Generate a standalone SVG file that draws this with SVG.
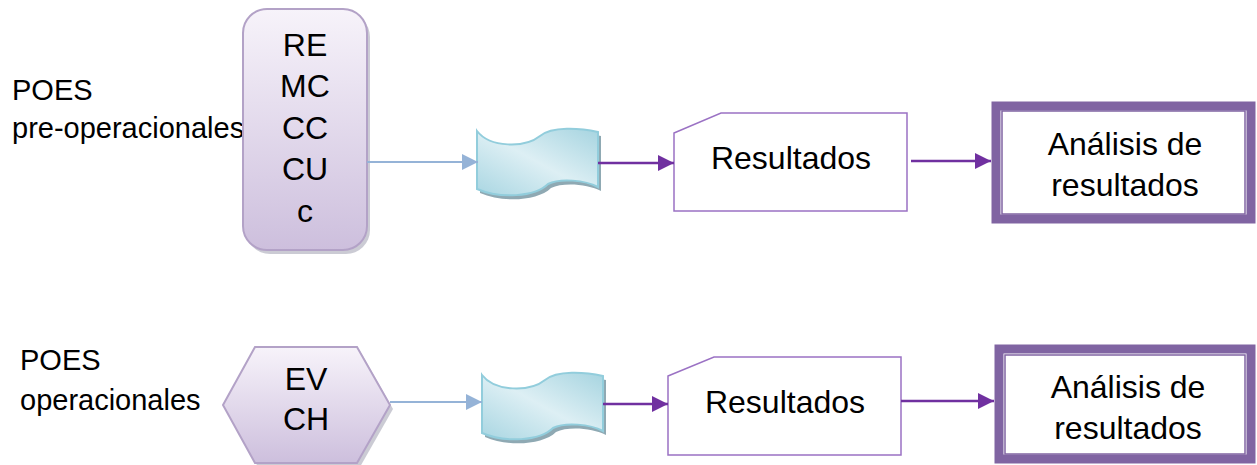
<svg xmlns="http://www.w3.org/2000/svg" width="1257" height="465" viewBox="0 0 1257 465">
  <defs>
    <linearGradient id="lilac" x1="0" y1="0" x2="0" y2="1">
      <stop offset="0" stop-color="#F7F3FA"/>
      <stop offset="1" stop-color="#CDBFDD"/>
    </linearGradient>
    <linearGradient id="tape" x1="0" y1="1" x2="1" y2="0">
      <stop offset="0" stop-color="#A9D6E2"/>
      <stop offset="0.5" stop-color="#DDEFF4"/>
      <stop offset="1" stop-color="#A6D4E0"/>
    </linearGradient>
    <marker id="arrowBlue" viewBox="0 0 10 10" refX="10" refY="5" markerWidth="16" markerHeight="16" markerUnits="userSpaceOnUse" orient="auto">
      <path d="M0,0 L10,5 L0,10 Z" fill="#95B3D7"/>
    </marker>
    <marker id="arrowPurple" viewBox="0 0 10 10" refX="10" refY="5" markerWidth="16" markerHeight="16" markerUnits="userSpaceOnUse" orient="auto">
      <path d="M0,0 L10,5 L0,10 Z" fill="#7030A0"/>
    </marker>
    <path id="tapeShape" d="M0,0 C13,17 48,17 63,5 C75,-5 103,-3 121,1 L121,56 C108,49 83,47 71,53 C58,66 23,68 0,58 Z"/>
  </defs>
  <style>
    text { font-family: "Liberation Sans", Arial, sans-serif; fill: #000; }
    .lbl { font-size: 29px; }
    .big { font-size: 32px; text-anchor: middle; }
    .mid { font-size: 32px; text-anchor: middle; }
    .src { fill: url(#lilac); stroke: #B3A2C7; stroke-width: 2; }
    .shadow { fill: #A9A9B8; opacity: 0.6; }
    .tape { fill: url(#tape); stroke: #92CDDC; stroke-width: 2; }
    .tapeShadow { fill: #8FA9B3; }
    .doc { fill: #FFFFFF; stroke: #9B72C4; stroke-width: 1.5; }
    .outer { fill: #FFFFFF; stroke: #8064A2; stroke-width: 9; }
    .inner { fill: none; stroke: #8064A2; stroke-width: 1.5; }
    .blue { stroke: #95B3D7; stroke-width: 2; fill: none; marker-end: url(#arrowBlue); }
    .purple { stroke: #7030A0; stroke-width: 2.5; fill: none; marker-end: url(#arrowPurple); }
  </style>

  <!-- side labels -->
  <g id="label-pre">
    <text class="lbl" x="12" y="100">POES</text>
    <text class="lbl" x="12" y="138">pre-operacionales</text>
  </g>
  <g id="label-op">
    <text class="lbl" x="20" y="370">POES</text>
    <text class="lbl" x="20" y="410">operacionales</text>
  </g>

  <!-- row 1 -->
  <g id="src-pre">
    <rect class="shadow" x="246" y="13" width="124" height="241" rx="24"/>
    <rect class="src" x="243" y="9" width="124" height="241" rx="24"/>
    <text class="big" x="305" y="56">RE</text>
    <text class="big" x="305" y="97">MC</text>
    <text class="big" x="305" y="139">CC</text>
    <text class="big" x="305" y="180">CU</text>
    <text class="big" x="305" y="222">c</text>
  </g>
  <g id="tape-pre">
    <use href="#tapeShape" class="tapeShadow" transform="translate(480,135)"/>
    <use href="#tapeShape" class="tape" transform="translate(477,131)"/>
  </g>
  <g id="res-pre">
    <path class="doc" d="M674,133 L721,113 L907,113 L907,211 L674,211 Z"/>
    <text class="mid" x="791" y="169">Resultados</text>
  </g>
  <g id="ana-pre">
    <rect class="outer" x="996" y="106" width="255" height="113"/>
    <rect class="inner" x="1002" y="111" width="243" height="103"/>
    <text class="mid" x="1125" y="155">Análisis de</text>
    <text class="mid" x="1125" y="196">resultados</text>
  </g>

  <!-- row 2 -->
  <g id="src-op">
    <path class="shadow" d="M258,351 L360,351 L393,409 L360,467 L258,467 L226,409 Z"/>
    <path class="src" d="M255,347 L357,347 L390,405 L357,463 L255,463 L223,405 Z"/>
    <text class="big" x="306" y="390">EV</text>
    <text class="big" x="306" y="430">CH</text>
  </g>
  <g id="tape-op">
    <use href="#tapeShape" class="tapeShadow" transform="translate(485,379)"/>
    <use href="#tapeShape" class="tape" transform="translate(482,375)"/>
  </g>
  <g id="res-op">
    <path class="doc" d="M668,376 L714,357 L901,357 L901,455 L668,455 Z"/>
    <text class="mid" x="785" y="413">Resultados</text>
  </g>
  <g id="ana-op">
    <rect class="outer" x="999" y="349" width="252" height="110"/>
    <rect class="inner" x="1005" y="355" width="240" height="99"/>
    <text class="mid" x="1128" y="398">Análisis de</text>
    <text class="mid" x="1128" y="439">resultados</text>
  </g>

  <!-- connectors -->
  <g id="connectors">
    <line class="blue" x1="367" y1="162" x2="478" y2="162"/>
    <line class="purple" x1="598" y1="163" x2="674" y2="163"/>
    <line class="purple" x1="911" y1="161" x2="991" y2="161"/>
    <line class="blue" x1="390" y1="402" x2="482" y2="402"/>
    <line class="purple" x1="603" y1="404" x2="668" y2="404"/>
    <line class="purple" x1="901" y1="401" x2="994" y2="401"/>
  </g>
</svg>
